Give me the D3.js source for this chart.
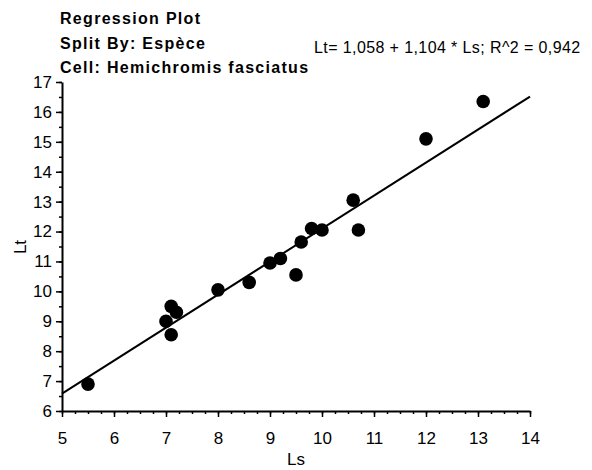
<!DOCTYPE html>
<html>
<head>
<meta charset="utf-8">
<script src="https://cdn.jsdelivr.net/npm/d3@7"></script>
<style>
  body { margin: 0; background: #fff; }
  text { font-family: "Liberation Sans", Arial, sans-serif; fill: #000; }
</style>
</head>
<body>
<svg id="chart" width="592" height="470"></svg>
<script>
// fish lengths
const ls = [5.5, 7.0, 7.1, 7.2, 7.1, 8.0, 8.6, 9.0, 9.2, 9.5, 9.6, 9.8, 10.0, 10.6, 10.7, 12.0, 13.1];
const lt = [6.9, 9.0, 9.5, 9.3, 8.55, 10.05, 10.3, 10.95, 11.1, 10.55, 11.65, 12.1, 12.05, 13.05, 12.05, 15.1, 16.35];
const intercept = 1.058;
const slope = 1.104;
const xTicks = [5, 6, 7, 8, 9, 10, 11, 12, 13, 14];
const yTicks = [6, 7, 8, 9, 10, 11, 12, 13, 14, 15, 16, 17];
const titleLines = ["Regression Plot", "Split By: Espèce", "Cell: Hemichromis fasciatus"];
const equation = "Lt= 1,058 + 1,104 * Ls; R^2 = 0,942";

const svg = d3.select("#chart");

const x = d3.scaleLinear().domain([5, 14]).range([62, 530]);
const y = d3.scaleLinear().domain([6, 17]).range([411, 82]);

// minor ticks first
svg.append("g")
  .attr("transform", "translate(0,411)")
  .call(d3.axisBottom(x).tickValues(d3.range(5, 14.001, 0.25)).tickFormat("").tickSize(3).tickSizeOuter(0))
  .call(g => g.select(".domain").remove())
  .selectAll("line").attr("stroke-width", 1.5);
svg.append("g")
  .attr("transform", "translate(62,0)")
  .call(d3.axisLeft(y).tickValues(d3.range(6, 17.001, 0.5)).tickFormat("").tickSize(3).tickSizeOuter(0))
  .call(g => g.select(".domain").remove())
  .selectAll("line").attr("stroke-width", 1.5);

// X axis
const gx = svg.append("g")
  .attr("transform", "translate(0,411)")
  .call(d3.axisBottom(x).tickValues(xTicks).tickFormat(d3.format("d")).tickSize(6).tickSizeOuter(0));
gx.select(".domain").attr("stroke-width", 2);
gx.selectAll("line").attr("stroke-width", 1.5);
gx.selectAll("text").attr("font-size", 17).attr("y", 21).attr("font-family", "Liberation Sans, Arial, sans-serif");

// Y axis
const gy = svg.append("g")
  .attr("transform", "translate(62,0)")
  .call(d3.axisLeft(y).tickValues(yTicks).tickFormat(d3.format("d")).tickSize(6).tickSizeOuter(0));
gy.select(".domain").attr("stroke-width", 2);
gy.selectAll("line").attr("stroke-width", 1.5);
gy.selectAll("text").attr("font-size", 17).attr("x", -10).attr("font-family", "Liberation Sans, Arial, sans-serif");

// regression line
svg.append("line")
  .attr("x1", x(5)).attr("y1", y(intercept + slope * 5))
  .attr("x2", x(14)).attr("y2", y(intercept + slope * 14))
  .attr("stroke", "#000")
  .attr("stroke-width", 2);

// points
svg.selectAll("circle.pt")
  .data(ls.map((d, i) => [d, lt[i]]))
  .enter()
  .append("circle")
  .attr("class", "pt")
  .attr("cx", d => x(d[0]))
  .attr("cy", d => y(d[1]))
  .attr("r", 6.8)
  .attr("fill", "#000");

// titles
svg.selectAll("text.title")
  .data(titleLines)
  .enter()
  .append("text")
  .attr("class", "title")
  .attr("x", 60)
  .attr("y", (d, i) => [24, 49, 73][i])
  .attr("font-size", 16)
  .attr("font-weight", "bold")
  .attr("letter-spacing", 1.3)
  .text(d => d);

svg.append("text")
  .attr("x", 314)
  .attr("y", 53)
  .attr("font-size", 16)
  .attr("letter-spacing", 0.4)
  .text(equation);

// axis labels
svg.append("text")
  .attr("x", 296)
  .attr("y", 465)
  .attr("text-anchor", "middle")
  .attr("font-size", 17)
  .text("Ls");

svg.append("text")
  .attr("transform", "translate(26,247) rotate(-90)")
  .attr("text-anchor", "middle")
  .attr("font-size", 17)
  .text("Lt");
</script>
</body>
</html>
